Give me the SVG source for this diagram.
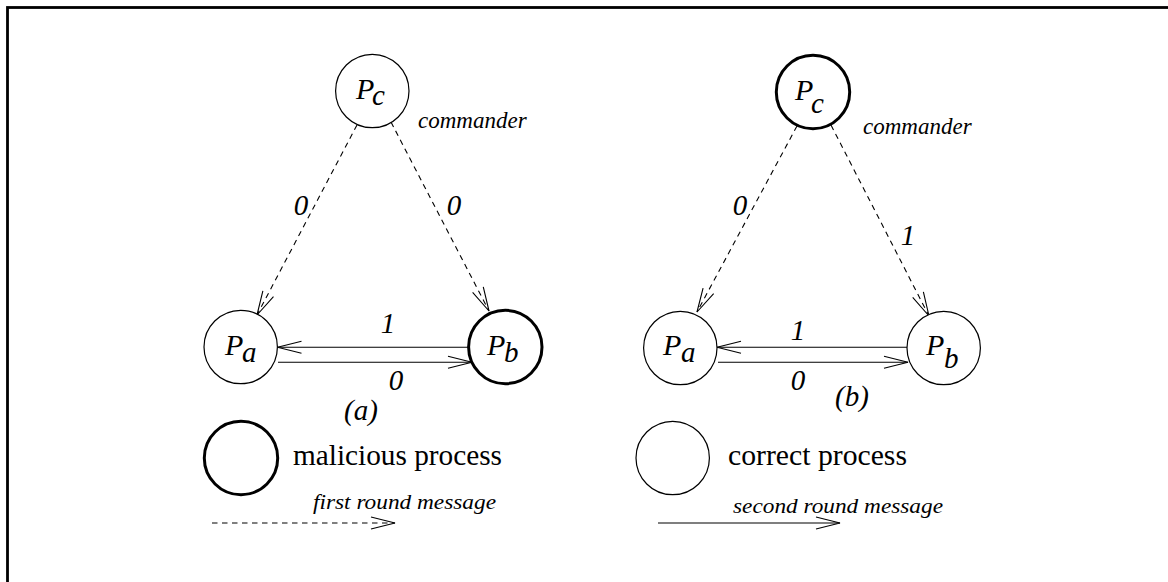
<svg xmlns="http://www.w3.org/2000/svg" width="1168" height="582" viewBox="0 0 1168 582">
<style>
.node{fill:#fff;stroke:#000;stroke-width:1.2}
.bold{stroke-width:3}
.t{font-family:"Liberation Serif","Times New Roman",serif;fill:#000}
.it{font-style:italic}
.lbl{font-family:"Liberation Serif","Times New Roman",serif;font-style:italic;font-size:29px;fill:#000;text-anchor:middle}
.pn{font-family:"Liberation Serif","Times New Roman",serif;font-style:italic;font-size:30px;fill:#000}
.sub{font-size:29px}
.cmd{font-family:"Liberation Serif","Times New Roman",serif;font-style:italic;font-size:23px;fill:#000}
.e{fill:none;stroke:#000;stroke-width:1.1;marker-end:url(#ah)}
.d{stroke-dasharray:5.5 4.5}
</style>
<defs>
<marker id="ah" markerUnits="userSpaceOnUse" markerWidth="30" markerHeight="16" refX="25" refY="7" orient="auto" overflow="visible">
<path d="M1,1 L25,7 L1,13" fill="none" stroke="#000" stroke-width="1.1" stroke-dasharray="none"/>
</marker>
</defs>
<rect x="7.5" y="7.5" width="1175" height="600" fill="#fff" stroke="#000" stroke-width="2.8"/>

<g id="connectors">
<line class="e d" x1="357" y1="125" x2="257" y2="315"/>
<line class="e d" x1="391" y1="122" x2="489" y2="311"/>
<line class="e" x1="468" y1="347.3" x2="277.5" y2="347.3"/>
<line class="e" x1="278" y1="362.3" x2="472" y2="362.3"/>
<line class="e d" x1="797" y1="126" x2="697" y2="312"/>
<line class="e d" x1="831" y1="125" x2="929" y2="316"/>
<line class="e" x1="907" y1="347.3" x2="717" y2="347.3"/>
<line class="e" x1="718" y1="362.3" x2="908" y2="362.3"/>
</g>

<g id="edge-labels">
<text class="lbl" x="301" y="215">0</text>
<text class="lbl" x="454" y="215">0</text>
<text class="lbl" x="388" y="333">1</text>
<text class="lbl" x="396" y="390">0</text>
<text class="lbl" x="740" y="215">0</text>
<text class="lbl" x="908" y="245">1</text>
<text class="lbl" x="798" y="340">1</text>
<text class="lbl" x="798" y="390">0</text>
<text class="lbl" x="361" y="420" font-size="30">(a)</text>
<text class="lbl" x="852" y="406" font-size="30">(b)</text>
</g>

<g id="a-Pc">
<circle class="node" cx="372.3" cy="91" r="36.7"/>
<text class="pn"><tspan x="356" y="99">P</tspan><tspan class="sub" x="372" y="105">c</tspan></text>
<text class="cmd" x="418" y="128">commander</text>
</g>
<g id="a-Pa">
<circle class="node" cx="240.7" cy="347" r="36.7"/>
<text class="pn"><tspan x="225" y="355">P</tspan><tspan class="sub" x="242" y="362">a</tspan></text>
</g>
<g id="a-Pb">
<circle class="node bold" cx="505.3" cy="347" r="36.7"/>
<text class="pn"><tspan x="487" y="355">P</tspan><tspan class="sub" x="504" y="362">b</tspan></text>
</g>

<g id="b-Pc">
<circle class="node bold" cx="813" cy="92" r="36.7"/>
<text class="pn"><tspan x="795" y="100">P</tspan><tspan class="sub" x="811" y="113">c</tspan></text>
<text class="cmd" x="863" y="134">commander</text>
</g>
<g id="b-Pa">
<circle class="node" cx="680.3" cy="348" r="36.7"/>
<text class="pn"><tspan x="663" y="355">P</tspan><tspan class="sub" x="681" y="362">a</tspan></text>
</g>
<g id="b-Pb">
<circle class="node" cx="943.7" cy="348" r="36.7"/>
<text class="pn"><tspan x="926" y="355">P</tspan><tspan class="sub" x="944" y="368">b</tspan></text>
</g>

<g id="legend">
<circle class="node bold" cx="241" cy="458" r="36.7"/>
<text class="t" x="293" y="465" font-size="29" textLength="209" lengthAdjust="spacingAndGlyphs">malicious process</text>
<circle class="node" cx="672.7" cy="458" r="36.7"/>
<text class="t" x="728" y="465" font-size="29" textLength="179" lengthAdjust="spacingAndGlyphs">correct process</text>
<text class="t it" x="313" y="509" font-size="22" textLength="183" lengthAdjust="spacingAndGlyphs">first round message</text>
<text class="t it" x="733" y="513" font-size="22" textLength="210" lengthAdjust="spacingAndGlyphs">second round message</text>
<line class="e d" x1="212" y1="523" x2="395" y2="523"/>
<line class="e" x1="658" y1="523" x2="840" y2="523"/>
</g>
</svg>
